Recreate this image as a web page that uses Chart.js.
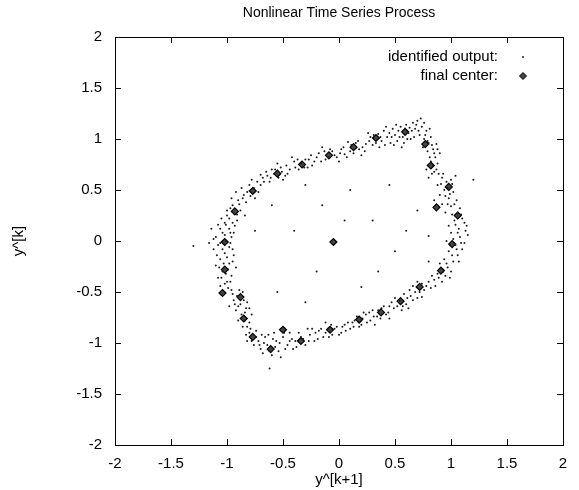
<!DOCTYPE html>
<html>
<head>
<meta charset="utf-8">
<script src="https://cdn.jsdelivr.net/npm/chart.js@4.4.0/dist/chart.umd.min.js"></script>
<style>
html,body{margin:0;padding:0;background:#fff;}
#wrap{width:579px;height:490px;}
</style>
</head>
<body>
<div id="wrap"><canvas id="c" width="579" height="490"></canvas></div>
<script>
const chartTitle = "Nonlinear Time Series Process";
const xAxisTitle = "y^[k+1]";
const yAxisTitle = "y^[k]";
const tickValues = [-2, -1.5, -1, -0.5, 0, 0.5, 1, 1.5, 2];
const seriesNames = ["identified output:", "final center:"];

const finalCenters = [
  [0.59,1.07],[0.33,1.01],[0.77,0.95],[0.13,0.92],[-0.09,0.84],[-0.33,0.75],[-0.55,0.66],
  [0.82,0.74],[-0.77,0.49],[0.98,0.53],[-0.93,0.29],[0.87,0.33],[1.06,0.25],[-1.02,-0.01],
  [-0.05,-0.01],[1.01,-0.03],[-1.02,-0.28],[0.91,-0.29],[-1.04,-0.51],[-0.88,-0.55],
  [0.72,-0.45],[0.55,-0.59],[-0.85,-0.76],[0.375,-0.70],[0.18,-0.77],[-0.50,-0.87],
  [-0.08,-0.87],[-0.77,-0.94],[-0.34,-0.98],[-0.61,-1.06]
];

const identifiedOutput = [
  [-0.98,0.22],[-0.95,0.35],[-0.90,0.40],[-0.88,0.30],[-1.00,0.30],[-0.85,0.45],[-0.92,0.48],[-0.80,0.55],[-0.75,0.42],[-0.83,0.38],[-0.70,0.55],[-0.96,0.42],[-0.87,0.52],[-0.78,0.60],[-1.02,0.18],[-0.93,0.15],[-0.84,0.25],
  [-0.68,0.62],[-0.62,0.58],[-0.60,0.70],[-0.52,0.72],[-0.48,0.64],[-0.58,0.66],[-0.65,0.68],[-0.44,0.70],[-0.40,0.78],[-0.36,0.70],[-0.30,0.80],[-0.28,0.72],[-0.50,0.60],[-0.42,0.82],[-0.55,0.76],[-0.70,0.65],
  [-0.22,0.78],[-0.18,0.86],[-0.12,0.80],[-0.06,0.88],[-0.02,0.82],[0.02,0.90],[0.05,0.85],[0.10,0.88],[0.15,0.96],[0.18,0.90],[-0.15,0.92],[0.00,0.78],[0.08,0.97],[-0.25,0.84],[0.20,0.84],
  [0.24,0.95],[0.28,1.02],[0.30,0.94],[0.35,1.05],[0.38,0.98],[0.40,1.08],[0.43,1.02],[0.46,0.96],[0.48,1.10],[0.50,1.04],[0.52,0.98],[0.55,1.12],[0.57,1.02],[0.60,1.14],[0.62,1.06],[0.64,1.00],[0.66,1.16],[0.68,1.10],[0.70,1.18],[0.72,1.04],[0.45,1.06],[0.36,0.92],[0.26,1.06],[0.53,1.08],[0.63,1.11],[0.58,0.96],
  [0.74,1.12],[0.76,1.00],[0.78,1.08],[0.80,0.96],[0.82,1.02],[0.84,0.90],[0.79,0.88],[0.86,0.82],[0.82,0.78],[0.88,0.76],[0.78,0.70],[0.85,0.68],[0.90,0.86],[0.75,0.92],[0.87,0.95],[0.80,0.62],
  [0.92,0.62],[0.96,0.58],[1.00,0.60],[0.94,0.50],[1.02,0.48],[0.90,0.45],[0.98,0.42],[1.05,0.40],[0.92,0.36],[1.00,0.34],[1.08,0.32],[0.95,0.28],[1.03,0.20],[1.10,0.22],[0.98,0.15],[1.07,0.12],[1.14,0.15],[0.88,0.55],[1.04,0.64],[0.85,0.40],
  [1.00,0.08],[1.08,0.04],[1.15,0.06],[0.96,0.00],[1.04,-0.04],[1.10,-0.08],[0.98,-0.10],[1.06,-0.14],[0.94,-0.18],[1.02,-0.20],[0.90,-0.22],[0.97,-0.26],[0.88,-0.32],[0.95,-0.34],[0.85,-0.38],[1.12,-0.02],[1.00,-0.30],[0.92,-0.40],
  [0.80,-0.40],[0.76,-0.48],[0.70,-0.40],[0.68,-0.50],[0.74,-0.55],[0.64,-0.54],[0.60,-0.62],[0.58,-0.52],[0.52,-0.64],[0.50,-0.56],[0.62,-0.66],[0.82,-0.46],[0.66,-0.44],[0.56,-0.68],
  [0.45,-0.64],[0.42,-0.72],[0.38,-0.66],[0.34,-0.74],[0.30,-0.68],[0.28,-0.78],[0.24,-0.72],[0.20,-0.82],[0.16,-0.74],[0.12,-0.80],[0.10,-0.86],[0.45,-0.76],[0.32,-0.82],[0.22,-0.70],
  [0.05,-0.82],[0.02,-0.90],[-0.02,-0.84],[-0.06,-0.92],[-0.10,-0.86],[-0.14,-0.94],[-0.18,-0.88],[-0.22,-0.98],[-0.26,-0.92],[-0.30,-1.02],[-0.34,-0.94],[-0.38,-1.04],[-0.42,-0.96],[-0.12,-0.80],[-0.28,-0.86],
  [-0.46,-1.02],[-0.50,-0.94],[-0.54,-1.08],[-0.56,-0.98],[-0.60,-1.12],[-0.64,-1.02],[-0.66,-0.94],[-0.70,-1.06],[-0.72,-0.98],[-0.76,-1.02],[-0.80,-0.90],[-0.74,-0.88],[-0.58,-0.90],[-0.52,-1.14],[-0.68,-1.10],[-0.82,-0.98],[-0.44,-0.90],
  [-0.86,-0.84],[-0.80,-0.80],[-0.90,-0.78],[-0.84,-0.70],[-0.92,-0.68],[-0.78,-0.72],[-0.88,-0.62],[-0.82,-0.60],[-0.94,-0.58],[-0.86,-0.50],[-0.96,-0.48],[-0.80,-0.66],[-0.98,-0.64],
  [-1.06,-0.44],[-1.00,-0.40],[-1.08,-0.36],[-0.96,-0.34],[-1.04,-0.30],[-1.10,-0.24],[-0.98,-0.22],[-1.06,-0.18],[-0.94,-0.14],[-1.02,-0.12],[-1.12,-0.08],[-0.98,-0.06],[-1.06,-0.02],[-1.10,0.04],[-0.96,0.04],[-1.04,0.08],[-1.14,0.12],[-0.98,0.12],[-1.08,0.16],[-0.92,-0.26],[-1.16,-0.02],[-0.94,0.08],
  [-0.6,0.35],[-0.3,0.55],[0.1,0.5],[0.45,0.55],[0.7,0.3],[0.3,0.2],[-0.4,0.1],[0.5,-0.1],[-0.2,-0.3],[0.2,-0.45],[-0.55,-0.5],[0.6,0.1],[-0.75,0.1],[0.05,0.2],[0.35,-0.3],[-0.3,-0.6],[0.8,0.05],[-0.15,0.35],
  [-1.3,-0.05],[-0.62,-1.25],[0.8,-0.2],[1.2,0.6],
  [-1.00,0.25],[-0.97,0.32],[-0.91,0.26],[-0.89,0.36],[-0.86,0.42],[-0.82,0.48],[-0.79,0.44],[-0.76,0.52],[-0.73,0.58],[-0.72,0.48],[-0.67,0.58],[-0.64,0.64],[-0.61,0.62],[-0.57,0.70],[-0.54,0.62],[-0.51,0.68],[-0.47,0.74],[-0.46,0.66],[-0.39,0.72],[-0.37,0.80],[-0.34,0.76],[-0.31,0.72],[-0.27,0.80],[-0.24,0.74],[-0.20,0.82],[-0.16,0.78],[-0.13,0.88],[-0.10,0.82],[-0.08,0.90],[-0.04,0.84],[0.01,0.86],[0.04,0.92],[0.07,0.82],[0.11,0.94],[0.13,0.86],[0.17,0.98],[0.21,0.92],[0.23,0.88],[0.27,0.98],[0.31,1.04],[0.33,0.96],[0.37,1.02],[0.41,0.94],[0.42,1.12],[0.47,1.02],[0.49,0.94],[0.51,1.14],[0.54,1.02],[0.56,0.92],[0.59,1.10],[0.61,1.00],[0.65,1.08],[0.67,1.02],[0.69,1.14],[0.71,1.08],[0.73,1.20],[0.76,1.16],[0.77,1.04],
  [0.81,1.10],[0.79,0.98],[0.83,0.94],[0.85,0.86],[0.88,0.90],[0.81,0.82],[0.84,0.74],[0.87,0.70],[0.89,0.66],[0.83,0.66],[0.91,0.56],[0.93,0.66],[0.97,0.52],[0.99,0.46],[1.01,0.56],[0.95,0.44],[1.03,0.36],[1.06,0.28],[0.97,0.36],[1.09,0.26],[1.01,0.26],[1.04,0.16],[1.12,0.18],[1.06,0.08],[1.13,0.10],[1.02,0.02],[1.09,-0.02],[1.05,-0.08],[0.99,-0.04],[1.01,-0.14],[1.07,-0.20],[0.96,-0.22],[0.93,-0.30],[0.99,-0.36],[0.89,-0.36],[0.86,-0.44],[0.83,-0.34],
  [0.78,-0.44],[0.74,-0.42],[0.72,-0.50],[0.70,-0.56],[0.66,-0.58],[0.63,-0.48],[0.61,-0.56],[0.57,-0.64],[0.54,-0.58],[0.49,-0.66],[0.47,-0.60],[0.44,-0.70],[0.40,-0.64],[0.37,-0.76],[0.35,-0.68],[0.31,-0.74],[0.27,-0.70],[0.25,-0.80],[0.21,-0.76],[0.18,-0.84],[0.14,-0.78],[0.13,-0.84],[0.08,-0.80],[0.06,-0.88],[0.03,-0.84],[0.00,-0.92],[-0.04,-0.86],[-0.07,-0.82],[-0.09,-0.94],[-0.12,-0.90],[-0.16,-0.86],[-0.19,-0.96],[-0.21,-0.90],[-0.24,-0.86],[-0.27,-0.98],[-0.32,-0.96],[-0.36,-0.90],[-0.39,-0.98],[-0.41,-1.06],[-0.44,-0.98],[-0.48,-1.06],[-0.49,-0.90],[-0.53,-1.00],[-0.57,-1.04],[-0.59,-0.96],[-0.62,-1.08],[-0.63,-0.92],[-0.67,-1.00],[-0.69,-0.92],[-0.71,-1.02],[-0.74,-0.94],[-0.78,-0.98],[-0.79,-0.86],
  [-0.83,-0.92],[-0.82,-0.84],[-0.84,-0.78],[-0.87,-0.72],[-0.83,-0.66],[-0.90,-0.64],[-0.85,-0.58],[-0.91,-0.54],[-0.93,-0.62],[-0.89,-0.48],[-0.95,-0.52],[-0.99,-0.46],[-1.02,-0.42],[-0.97,-0.40],[-1.05,-0.36],[-1.01,-0.32],[-0.99,-0.28],[-1.07,-0.26],[-1.03,-0.22],[-0.95,-0.20],[-1.09,-0.14],[-1.00,-0.16],[-1.04,-0.08],[-0.95,-0.08],[-1.08,-0.04],[-1.01,0.00],[-0.97,-0.02],[-1.12,0.02],[-1.02,0.06],[-1.06,0.12],[-0.97,0.08],[-1.01,0.16],[-0.95,0.18],[-1.05,0.22],[-0.91,0.20]
];

const FONT = "'Liberation Sans', Arial, Helvetica, sans-serif";

const framePlugin = {
  id: 'frame',
  afterDatasetsDraw(chart) {
    const {ctx, chartArea: a, scales} = chart;
    ctx.save();
    ctx.strokeStyle = '#000';
    ctx.lineWidth = 1;
    ctx.strokeRect(Math.round(a.left)+0.5, Math.round(a.top)+0.5, Math.round(a.right-a.left), Math.round(a.bottom-a.top));
    const L = 6;
    ctx.beginPath();
    tickValues.forEach(v => {
      const px = Math.round(scales.x.getPixelForValue(v)) + 0.5;
      ctx.moveTo(px, a.bottom); ctx.lineTo(px, a.bottom - L);
      ctx.moveTo(px, a.top); ctx.lineTo(px, a.top + L);
      const py = Math.round(scales.y.getPixelForValue(v)) + 0.5;
      ctx.moveTo(a.left, py); ctx.lineTo(a.left + L, py);
      ctx.moveTo(a.right, py); ctx.lineTo(a.right - L, py);
    });
    ctx.stroke();
    // title centred over the plot area
    ctx.fillStyle = '#000';
    ctx.textAlign = 'center';
    ctx.textBaseline = 'middle';
    ctx.font = '14px ' + FONT;
    ctx.fillText(chartTitle, (a.left + a.right) / 2, 13);
    // legend
    ctx.font = '15px ' + FONT;
    ctx.textAlign = 'right';
    const tx = a.right - 65, mx = a.right - 40;
    const y1 = a.top + 20, y2 = a.top + 39;
    ctx.fillText(seriesNames[0], tx, y1);
    ctx.fillText(seriesNames[1], tx, y2);
    ctx.fillStyle = '#222';
    ctx.beginPath(); ctx.arc(mx, y1, 1, 0, Math.PI*2); ctx.fill();
    ctx.fillStyle = '#444';
    ctx.strokeStyle = '#000';
    ctx.beginPath();
    ctx.moveTo(mx, y2-3.5); ctx.lineTo(mx+3.5, y2); ctx.lineTo(mx, y2+3.5); ctx.lineTo(mx-3.5, y2); ctx.closePath();
    ctx.fill(); ctx.stroke();
    ctx.restore();
  }
};

new Chart(document.getElementById('c'), {
  type: 'scatter',
  data: {
    datasets: [
      {
        label: seriesNames[0],
        data: identifiedOutput.map(p => ({x: p[0], y: p[1]})),
        pointRadius: 1,
        pointBorderWidth: 0,
        backgroundColor: '#1a1a1a',
        borderColor: '#1a1a1a'
      },
      {
        label: seriesNames[1],
        data: finalCenters.map(p => ({x: p[0], y: p[1]})),
        pointStyle: 'rectRot',
        pointRadius: 3.5,
        pointBorderWidth: 1.2,
        backgroundColor: '#444',
        borderColor: '#000'
      }
    ]
  },
  options: {
    responsive: false,
    animation: false,
    events: [],
    layout: {padding: {left: 0, right: 16, top: 0, bottom: 0}},
    plugins: {
      legend: {display: false},
      tooltip: {enabled: false},
      title: {
        display: true,
        text: chartTitle,
        color: 'rgba(0,0,0,0)',
        font: {family: FONT, size: 13, weight: 'normal'},
        padding: {top: 4, bottom: 17.4}
      }
    },
    scales: {
      x: {
        type: 'linear', min: -2, max: 2,
        afterBuildTicks: s => { s.ticks = tickValues.map(v => ({value: v})); },
        afterFit: s => { s.height = 45; },
        grid: {display: false, drawTicks: false},
        border: {display: false},
        ticks: {color: '#000', font: {family: FONT, size: 15}, padding: 10, maxRotation: 0,
          callback: v => String(v)},
        title: {display: true, text: xAxisTitle, color: '#000', font: {family: FONT, size: 15}, padding: {top: 0, bottom: 1}}
      },
      y: {
        type: 'linear', min: -2, max: 2,
        afterBuildTicks: s => { s.ticks = tickValues.map(v => ({value: v})); },
        afterFit: s => { s.width = 115; },
        grid: {display: false, drawTicks: false},
        border: {display: false},
        ticks: {color: '#000', font: {family: FONT, size: 15}, padding: 13,
          callback: v => String(v)},
        title: {display: true, text: yAxisTitle, color: '#000', font: {family: FONT, size: 15}, padding: {top: 10, bottom: 0}}
      }
    }
  },
  plugins: [framePlugin]
});
</script>
</body>
</html>
